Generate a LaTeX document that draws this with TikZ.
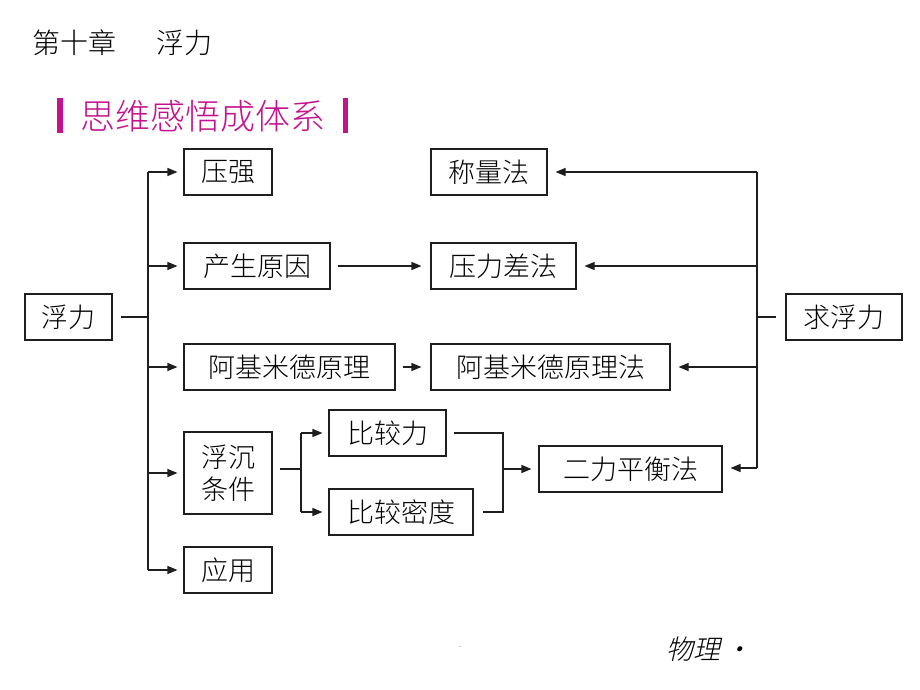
\documentclass[tikz,border=0pt]{standalone}
\usepackage{fontspec}
\newfontfamily\cjk{Noto Sans CJK SC}[UprightFont={* Light}]
\newfontfamily\cjkit{Noto Sans CJK SC}[UprightFont={* Light}, FakeSlant=0.22]
\usetikzlibrary{arrows.meta}
\definecolor{hdmag}{RGB}{196,18,140}
\definecolor{ln}{RGB}{30,30,30}
\tikzset{
  bx/.style={draw=ln, line width=1.1pt, inner sep=0pt, align=center,
    font=\cjk\fontsize{27}{36}\selectfont},
  cn/.style={draw=ln, line width=1.1pt},
  ar/.style={cn, arrows={-Triangle[length=10pt,width=8pt]}},
}
\begin{document}
\begin{tikzpicture}[x=1pt,y=-1pt]
\useasboundingbox (0,0) rectangle (920,690);
% title
\node[anchor=west, inner sep=0pt, font=\cjk\fontsize{28}{34}\selectfont] (title) at (32,43) {第十章\hspace{40pt}浮力};
% heading
\fill[hdmag] (57,98) rectangle (63,133);
\fill[hdmag] (343,98) rectangle (348,133);
\node[inner sep=0pt, text=hdmag, font=\cjk\fontsize{35}{40}\selectfont] (head) at (203,116) {思维感悟成体系};
% boxes
\node[bx, minimum width=87pt, minimum height=46pt] (fuli) at (68.5,317) {浮力};
\node[bx, minimum width=88pt, minimum height=46pt] (yaqiang) at (228,172) {压强};
\node[bx, minimum width=146pt, minimum height=46pt] (yuanyin) at (257,266) {产生原因};
\node[bx, minimum width=211pt, minimum height=46pt] (ajm) at (289.5,367) {阿基米德原理};
\node[bx, minimum width=88pt, minimum height=82pt] (fuchen) at (228,473) {浮沉\\[-4pt]条件};
\node[bx, minimum width=88pt, minimum height=46pt] (yingyong) at (228,570) {应用};
\node[bx, minimum width=117pt, minimum height=46pt] (bjl) at (387.5,433) {比较力};
\node[bx, minimum width=144pt, minimum height=46pt] (bjmd) at (401,512) {比较密度};
\node[bx, minimum width=183pt, minimum height=46pt] (elph) at (630.5,469) {二力平衡法};
\node[bx, minimum width=116pt, minimum height=46pt] (clf) at (489,172) {称量法};
\node[bx, minimum width=145pt, minimum height=46pt] (ylcf) at (503.5,266) {压力差法};
\node[bx, minimum width=239pt, minimum height=46pt] (ajmf) at (550.5,367) {阿基米德原理法};
\node[bx, minimum width=116pt, minimum height=46pt] (qfl) at (844,317) {求浮力};
% left trunk
\coordinate (tk) at (148,317);
\draw[cn] ([xshift=8pt]fuli.east) -- (tk);
\draw[cn] (yaqiang.west -| tk) -- (yingyong.west -| tk);
\foreach \n in {yaqiang,yuanyin,ajm,fuchen,yingyong}
  \draw[ar, shorten >=6pt] (\n.west -| tk) -- (\n.west);
% middle arrows
\draw[ar, shorten <=7pt, shorten >=9pt] (yuanyin.east) -- (ylcf.west);
\draw[ar, shorten <=7pt, shorten >=9pt] (ajm.east) -- (ajm.east -| ajmf.west);
% float/sink branch
\coordinate (b1) at (301,469);
\draw[cn] ([xshift=7pt]fuchen.east |- b1) -- (b1);
\draw[cn] (bjl.west -| b1) -- (bjmd.west -| b1);
\draw[ar, shorten >=6pt] (bjl.west -| b1) -- (bjl.west);
\draw[ar, shorten >=6pt] (bjmd.west -| b1) -- (bjmd.west);
% merge to elph
\coordinate (b2) at (503,469);
\draw[cn] ([xshift=7pt]bjl.east) -- (bjl.east -| b2) -- (bjmd.east -| b2) -- ([xshift=9pt]bjmd.east);
\draw[ar, shorten >=7pt] (b2) -- (b2 -| elph.west);
% right trunk
\coordinate (rt) at (757,317);
\coordinate (rb) at (757,468);
\draw[cn] ([xshift=-9pt]qfl.west) -- (rt);
\draw[cn] (clf.east -| rt) -- (rb);
\draw[ar, shorten >=8pt] (clf.east -| rt) -- (clf.east);
\draw[ar, shorten >=8pt] (ylcf.east -| rt) -- (ylcf.east);
\draw[ar, shorten >=8pt] (ajmf.east -| rt) -- (ajmf.east);
\draw[ar, shorten >=8pt] (rb) -- (elph.east |- rb);
% footer
\node[anchor=west, inner sep=0pt, font=\cjkit\fontsize{27}{32}\selectfont] (wuli) at (666,649) {物理\hspace{4pt}•};
\node[inner sep=0pt, font=\fontsize{8}{8}\selectfont] (dot) at (460,647) {.};
\end{tikzpicture}
\end{document}
